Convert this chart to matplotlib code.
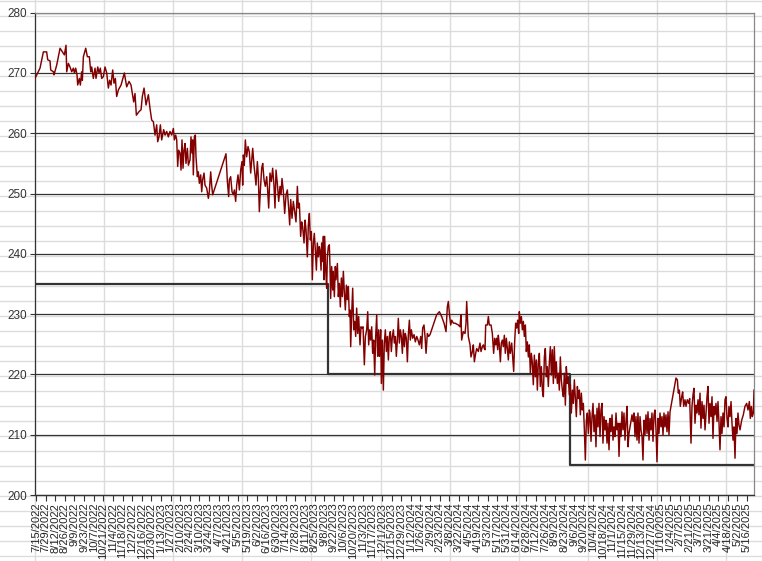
import datetime as dt
import numpy as np
import pandas as pd
import matplotlib
matplotlib.use("Agg")
import matplotlib.pyplot as plt
import matplotlib.dates as mdates
from matplotlib.lines import Line2D

plt.rcParams['font.family'] = ['Liberation Sans', 'DejaVu Sans']

# ---------------- data (x = days after 2022-07-15, y = weight) ----------------
start_date = "2022-07-15"

days_a = [-1.5, 5.8, 10.7, 15.5, 17.0, 20.4, 21.4, 25.3, 26.2, 30.1,
          35.0, 41.3, 43.7, 44.7, 47.1, 49.5, 52.0, 54.4, 55.9, 57.8,
          59.7, 60.7, 63.1, 64.6, 66.5, 67.5, 69.0, 72.4, 74.8, 77.7,
          79.7, 81.1, 83.5, 86.0, 87.4, 89.9, 91.8, 93.7, 95.7, 98.1,
          100.5, 103.0, 105.4, 107.3, 109.3, 111.7, 113.6, 115.6, 117.5, 120.0,
          123.9, 128.7, 132.1, 135.5, 138.4, 142.3, 144.2, 146.2, 150.1, 153.0,
          154.9, 157.4, 160.3, 163.7, 166.1, 168.5, 171.0, 173.4, 175.8, 177.3,
          179.2, 181.2, 183.1, 186.0, 188.0, 190.4, 192.8, 195.2, 197.7, 200.1,
          201.6, 203.5, 205.0, 206.4, 207.9]
weight_a = [269.1, 270.8, 273.5, 273.5, 272.2, 272.0, 270.5, 270.2, 269.7, 271.3,
            274.1, 273.0, 274.6, 270.2, 271.6, 271.0, 270.2, 270.8, 270.0, 270.8,
            269.7, 268.0, 269.1, 268.0, 270.2, 268.8, 272.7, 274.1, 272.7, 272.7,
            270.2, 271.0, 269.1, 270.8, 269.1, 271.0, 270.0, 270.8, 269.1, 269.4,
            271.0, 270.0, 267.5, 268.8, 268.0, 270.5, 268.3, 269.1, 266.1, 267.2,
            268.0, 270.0, 267.7, 268.6, 268.0, 265.2, 266.6, 263.0, 263.6, 263.9,
            266.1, 267.5, 264.7, 266.4, 264.1, 262.2, 261.9, 259.7, 261.4, 258.6,
            259.4, 261.4, 258.9, 260.6, 259.7, 260.3, 259.4, 260.3, 259.7, 260.8,
            258.9, 259.7, 258.9, 254.5, 257.2]

days_b = [209.8, 211.3, 212.7, 214.2, 215.6, 217.1, 218.5, 220.5, 222.0, 224.4,
          225.8, 227.3, 228.3, 229.2, 230.7, 232.1, 233.1, 235.1, 236.5, 238.0,
          239.9, 241.4, 242.8, 244.8, 246.2, 248.7, 251.1, 252.5, 254.5, 255.9,
          257.4, 276.8, 278.8, 280.7, 281.7, 283.6, 285.6, 287.5, 289.0, 290.9,
          292.4, 294.3, 296.3, 298.2, 300.1, 301.1, 302.1, 303.5, 305.0, 306.9,
          308.9, 310.8, 312.8, 314.2, 315.7, 317.6, 319.1, 320.5, 322.5, 323.9,
          325.4, 326.9, 328.8, 330.3, 332.2, 334.1, 336.1, 337.5, 339.0, 340.9,
          342.9, 344.8, 346.8, 348.2, 349.7, 351.6, 353.6, 355.5, 357.0, 358.4,
          360.4, 362.3, 364.3, 366.2, 368.1, 369.6, 371.1, 373.0, 374.9, 376.9,
          378.8, 380.8, 382.2, 383.7, 385.6, 387.1, 388.5, 390.5, 392.0, 393.4,
          395.3, 396.8, 398.3, 399.7, 401.2, 402.6, 404.1, 405.5, 407.0, 408.5,
          409.9, 411.4, 412.8]
weight_b = [256.7, 253.9, 258.9, 254.2, 257.2, 258.3, 255.0, 257.5, 254.7, 255.6,
            259.4, 256.7, 258.9, 253.1, 259.4, 259.7, 256.1, 252.8, 253.6, 251.7,
            253.1, 250.3, 252.3, 253.4, 251.4, 250.9, 249.2, 250.3, 253.6, 251.4,
            249.8, 256.6, 252.0, 249.5, 252.3, 252.8, 250.3, 249.8, 250.6, 248.7,
            251.4, 253.1, 250.6, 253.9, 255.3, 251.4, 256.4, 254.7, 258.9, 256.1,
            257.8, 256.9, 253.4, 255.3, 257.5, 254.7, 253.1, 251.4, 255.3, 252.8,
            247.0, 250.6, 254.2, 255.0, 252.3, 251.2, 252.8, 250.6, 247.6, 253.4,
            252.0, 254.2, 251.2, 247.6, 253.9, 251.7, 248.7, 251.2, 249.8, 252.5,
            250.3, 246.7, 249.8, 250.6, 247.6, 244.8, 249.0, 245.9, 248.7, 247.0,
            245.3, 251.2, 247.6, 248.4, 242.9, 245.3, 244.5, 241.8, 245.6, 244.0,
            239.5, 244.8, 246.7, 242.3, 243.7, 235.7, 241.8, 243.4, 240.6, 237.3,
            241.8, 239.5, 241.2]

days_c = [413.8, 415.3, 416.2, 417.7, 418.7, 419.6, 420.6, 422.1, 423.5, 424.5,
          425.9, 427.4, 428.4, 429.3, 430.8, 432.3, 433.2, 434.7, 436.1, 437.1,
          439.1, 440.5, 442.0, 443.4, 444.9, 446.3, 447.8, 449.3, 450.7, 452.2,
          453.6, 455.1, 456.5, 457.5, 458.5, 459.9, 461.4, 462.9, 464.3, 465.8,
          467.2, 468.7, 470.1, 472.1, 473.5, 475.0, 476.5, 478.4, 479.9, 481.8,
          483.3, 484.7, 486.2, 487.6, 489.1, 490.5, 492.0, 493.5, 494.9, 496.4,
          497.8, 499.3, 500.3, 501.2, 502.2, 503.2, 504.6, 506.1, 507.5, 509.0,
          510.5, 511.9, 513.4, 514.8, 516.3, 517.7, 519.2, 520.7, 522.1, 523.6,
          525.0, 526.5, 527.9, 529.4, 530.9, 532.3, 533.8, 535.2, 536.7, 538.1,
          539.6, 541.1, 542.5, 544.0, 545.4, 546.9, 548.8, 550.8, 552.7, 554.7,
          556.6, 558.5, 560.5, 561.9, 563.4, 565.3, 566.8, 568.3, 570.2, 572.1,
          574.1, 583.8, 587.7, 591.1, 594.5, 597.4, 599.3, 600.8, 602.3, 604.2,
          605.7, 608.1]
weight_c = [240.6, 237.3, 241.8, 238.7, 242.9, 235.7, 242.9, 237.3, 234.3, 239.5,
            241.2, 241.5, 237.6, 232.6, 237.9, 234.0, 237.1, 232.9, 237.9, 235.7,
            238.4, 232.9, 235.1, 231.2, 236.0, 232.9, 237.1, 233.5, 230.7, 234.8,
            232.4, 234.6, 229.6, 230.7, 224.6, 229.9, 234.3, 227.4, 228.8, 226.3,
            231.0, 226.8, 229.6, 224.9, 227.9, 227.7, 227.9, 221.6, 226.3, 227.4,
            230.4, 224.9, 227.4, 225.7, 227.9, 223.5, 225.7, 219.9, 226.3, 229.9,
            223.0, 227.4, 223.0, 224.6, 227.4, 218.5, 225.7, 217.4, 225.2, 227.4,
            223.8, 226.3, 222.4, 226.3, 227.1, 223.8, 226.3, 227.4, 225.2, 226.3,
            223.0, 225.7, 229.3, 225.2, 227.4, 226.3, 223.5, 227.4, 224.6, 226.8,
            226.0, 222.1, 226.6, 229.0, 225.7, 227.4, 226.0, 226.6, 225.4, 226.3,
            225.7, 224.9, 226.3, 224.3, 227.7, 228.2, 226.3, 223.5, 226.8, 226.3,
            226.6, 229.9, 230.4, 229.6, 228.5, 227.1, 231.2, 232.1, 230.1, 228.2,
            229.0, 228.5]

days_d = [610.5, 615.4, 617.8, 619.2, 620.2, 622.6, 625.1, 626.5, 627.5, 629.0,
          629.9, 632.4, 633.8, 635.8, 637.2, 638.7, 640.6, 642.1, 644.5, 646.9,
          648.4, 650.3, 651.8, 653.2, 654.2, 655.2, 657.6, 659.1, 660.5, 663.0,
          664.9, 666.8, 668.3, 669.8, 671.2, 672.7, 673.6, 675.1, 676.6, 678.0,
          679.5, 680.9, 682.4, 683.8, 685.3, 686.8, 688.2, 689.7, 691.1, 693.1,
          694.5, 696.0, 697.4, 698.9, 700.4, 701.8, 703.3, 704.2, 705.7, 707.2,
          708.6, 710.1, 711.5, 713.0, 714.4, 715.9, 717.4, 718.8, 720.3, 721.7,
          723.2, 724.6, 726.1, 727.6, 729.0, 730.5, 731.9, 733.4, 734.8, 736.3,
          737.8, 739.2, 740.7, 742.1, 743.6, 745.0, 746.5, 748.0, 749.4, 750.9,
          752.3, 753.8, 755.2, 756.7, 758.1, 759.6, 761.1, 762.5, 764.0, 765.4,
          766.9, 768.4, 769.8, 771.3, 772.7, 774.2, 775.6, 777.1, 778.6, 780.0,
          781.5, 782.9, 784.4, 785.8, 787.3, 788.8, 790.2, 791.7, 793.1, 794.6,
          796.0, 797.5, 799.0, 800.4, 801.9, 803.3, 804.8, 806.2]
weight_d = [228.5, 228.2, 227.9, 229.9, 225.7, 227.1, 226.8, 228.5, 232.1, 228.5,
            226.3, 224.9, 222.9, 223.8, 224.9, 222.1, 223.5, 224.3, 223.8, 225.2,
            223.8, 224.6, 224.9, 224.3, 224.1, 228.2, 228.2, 229.6, 228.2, 228.2,
            226.8, 223.5, 226.0, 224.9, 226.0, 224.1, 226.5, 224.9, 222.1, 225.2,
            225.7, 224.6, 226.5, 223.5, 226.0, 224.3, 222.4, 225.4, 223.5, 225.2,
            222.9, 220.5, 225.4, 228.5, 227.7, 229.0, 226.8, 230.4, 228.5, 229.6,
            227.4, 228.8, 226.3, 228.2, 223.8, 225.4, 222.9, 224.9, 220.2, 223.5,
            221.9, 218.3, 223.2, 219.6, 222.4, 217.4, 221.9, 223.5, 218.0, 221.3,
            217.4, 216.3, 222.9, 224.3, 219.6, 221.3, 218.0, 222.1, 224.6, 219.9,
            224.1, 218.5, 224.6, 219.4, 222.1, 218.5, 220.2, 217.4, 222.9, 219.1,
            217.4, 216.3, 220.2, 214.9, 221.3, 218.5, 219.6, 216.6, 218.3, 213.6,
            217.4, 215.2, 219.1, 216.3, 213.0, 218.0, 216.0, 217.4, 213.3, 216.9,
            214.1, 215.2, 210.8, 205.8, 212.4, 213.6, 210.2, 214.1]

days_e = [807.2, 808.7, 810.1, 811.6, 813.0, 814.5, 815.9, 817.4, 818.9, 820.3,
          821.8, 823.2, 824.7, 826.1, 827.6, 829.1, 830.5, 832.0, 833.4, 834.9,
          836.3, 837.8, 839.3, 840.7, 842.2, 843.6, 845.1, 846.5, 848.0, 849.5,
          850.9, 852.4, 853.8, 855.3, 856.7, 858.2, 859.7, 861.1, 862.6, 864.0,
          865.5, 866.9, 868.4, 869.9, 871.3, 872.8, 874.2, 875.7, 877.1, 878.6,
          880.1, 881.5, 883.0, 884.4, 885.9, 887.3, 888.8, 890.3, 891.7, 893.2,
          894.6, 896.1, 897.5, 899.0, 900.5, 901.9, 903.4, 904.8, 906.3, 907.7,
          909.2, 910.7, 912.1, 913.6, 915.0, 916.5, 917.9, 919.4, 920.9, 922.3,
          923.8,
          932.5, 934.5, 935.9, 937.4, 938.8, 940.8, 942.2, 943.7, 945.6, 947.1,
          949.0, 951.0, 952.4, 954.4, 955.8, 957.3, 958.7, 960.2, 961.7, 963.1,
          964.6, 966.0, 967.5, 968.9, 970.4, 971.9, 973.3, 974.8, 976.2, 977.7,
          979.1, 980.6, 982.1, 983.5, 985.0, 986.4, 987.9, 989.3, 990.8, 992.3,
          993.7, 995.2, 996.6, 998.1, 999.5, 1001.0, 1002.5, 1003.9, 1005.4, 1006.8,
          1008.3, 1009.7, 1011.2, 1012.7, 1014.1, 1015.6, 1017.0, 1018.5, 1019.9, 1021.4,
          1022.8, 1024.3, 1025.8, 1028.2, 1030.6, 1033.0, 1035.5, 1037.4, 1039.4, 1040.8,
          1042.3, 1043.7, 1045.2, 1046.2]
weight_e = [213.6, 208.9, 213.0, 215.2, 210.5, 213.3, 208.0, 214.4, 211.3, 215.2,
            209.7, 214.1, 215.2, 208.6, 213.0, 210.8, 212.4, 208.6, 211.9, 207.5,
            212.7, 210.5, 213.3, 209.1, 211.3, 209.7, 213.6, 210.8, 211.9, 206.4,
            211.9, 209.7, 213.8, 210.8, 213.6, 209.1, 212.2, 214.7, 208.0, 210.2,
            211.3, 212.2, 213.3, 212.2, 213.6, 209.7, 213.0, 209.1, 213.6, 208.6,
            213.0, 210.8, 209.7, 205.8, 212.4, 210.0, 213.3, 210.2, 213.8, 209.1,
            212.7, 210.8, 213.6, 208.9, 213.3, 214.1, 210.8, 205.5, 212.7, 210.2,
            213.6, 211.3, 213.0, 210.0, 213.6, 211.3, 213.3, 210.5, 213.8, 210.0,
            213.8,
            219.4, 219.1, 216.9, 217.4, 214.7, 216.3, 217.1, 214.7, 215.8, 214.7,
            215.8, 215.2, 216.0, 208.6, 214.7, 216.6, 217.7, 211.9, 214.9, 213.6,
            215.8, 213.3, 216.9, 211.1, 215.5, 212.7, 214.9, 210.8, 213.6, 216.3,
            218.0, 211.9, 215.2, 213.0, 216.3, 209.4, 214.7, 213.3, 215.2, 212.2,
            215.5, 211.9, 207.5, 213.0, 210.2, 213.6, 211.3, 215.8, 216.3, 212.7,
            211.3, 214.7, 213.0, 215.5, 211.9, 209.1, 211.3, 206.1, 212.7, 210.2,
            213.6, 211.6, 210.8, 212.4, 213.3, 214.7, 215.2, 214.1, 215.5, 212.7,
            214.7, 213.0, 213.6, 217.4]

# goal (step) series
goal_dates = ["2022-07-13", "2023-09-13", "2024-08-31", "2025-05-26"]
goal_values = [235, 220, 205, 205]

# axis
y_ticks = [200, 210, 220, 230, 240, 250, 260, 270, 280]
x_tick_first, x_tick_last, x_tick_every_days = "2022-07-15", "2025-05-16", 14
x_range = ("2022-07-13 12:00", "2025-05-26 04:00")

# ---------------- build ----------------
for d, w in [(days_a, weight_a), (days_b, weight_b), (days_c, weight_c),
             (days_d, weight_d), (days_e, weight_e)]:
    assert len(d) == len(w), (len(d), len(w))

base = mdates.date2num(pd.Timestamp(start_date))
days = np.concatenate([days_a, days_b, days_c, days_d, days_e])
weights = np.concatenate([weight_a, weight_b, weight_c, weight_d, weight_e])
x = base + days

W, H = 762, 561
fig = plt.figure(figsize=(W / 100, H / 100), dpi=100)
fig.patch.set_facecolor('white')

# spreadsheet cell grid behind the chart
for k in range(12):
    xp = (35 + 69.1 * k) / W
    fig.add_artist(Line2D([xp, xp], [0, 1], transform=fig.transFigure,
                          color='#dcdcdc', lw=1.0, zorder=-5))
for k in range(38):
    yp = 1 - (0.5 + 15.02 * k) / H
    fig.add_artist(Line2D([0, 1], [yp, yp], transform=fig.transFigure,
                          color='#dcdcdc', lw=1.0, zorder=-5))

ax = fig.add_axes([35 / W, (H - 495) / H, 719 / W, (495 - 12.7) / H])
ax.patch.set_alpha(0)

ax.plot(mdates.date2num(pd.to_datetime(goal_dates)), goal_values,
        drawstyle='steps-post', color='#333333', lw=1.6, zorder=2)
ax.plot(x, weights, color='#820000', lw=1.05, zorder=3)

ax.set_ylim(200, 280)
ax.set_yticks(y_ticks)
ax.set_yticklabels([str(v) for v in y_ticks])
ax.yaxis.grid(True, color='#333333', lw=0.9, zorder=1)
ax.set_axisbelow(True)

ax.set_xlim(mdates.date2num(pd.Timestamp(x_range[0])),
            mdates.date2num(pd.Timestamp(x_range[1])))
tick_dates = pd.date_range(x_tick_first, x_tick_last, freq=f"{x_tick_every_days}D")
ax.set_xticks(mdates.date2num(tick_dates))
ax.set_xticklabels([f"{d.month}/{d.day}/{d.year}" for d in tick_dates], rotation=90)

ax.tick_params(axis='x', length=4, width=0.8, color='#333333', labelsize=8,
               labelcolor='#222222', pad=1.5)
ax.tick_params(axis='y', length=3.5, width=0.8, color='#333333', labelsize=8.5,
               labelcolor='#333333', pad=2)

for s in ['left', 'bottom']:
    ax.spines[s].set_color('#333333')
    ax.spines[s].set_linewidth(0.9)
for s in ['top', 'right']:
    ax.spines[s].set_color('#888888')
    ax.spines[s].set_linewidth(0.9)

fig.savefig('out.png', dpi=100)
